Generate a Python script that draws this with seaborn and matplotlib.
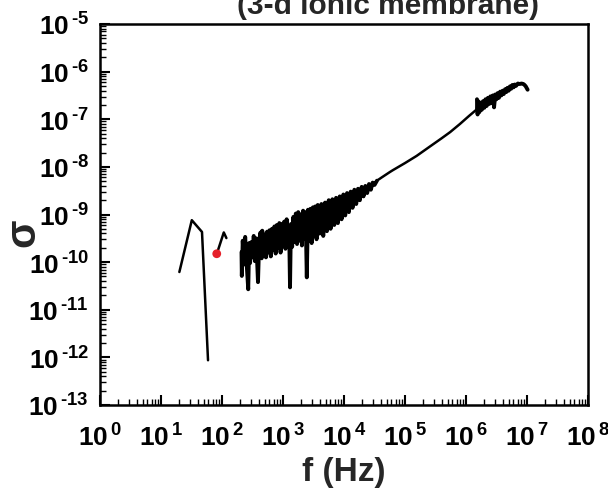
import numpy as np
import pandas as pd
import matplotlib
matplotlib.use("Agg")
import matplotlib.pyplot as plt
import seaborn as sns
from matplotlib.ticker import LogLocator, FuncFormatter, NullFormatter

# ---------------- data ----------------
# segment 1 (low-frequency)
f_seg1 = [20, 32, 47, 59]
sigma_seg1 = [6.2e-11, 7.6e-10, 4.3e-10, 8.7e-13]

# red point
f_red = [82]
sigma_red = [1.5e-10]

# segment 2 (short)
f_seg2 = [85, 107, 118]
sigma_seg2 = [1.7e-10, 4.2e-10, 3.2e-10]

# segment 3, noisy low-frequency part : log10 of frequency and conductivity
log_f_noisy_low = [
    2.32, 2.325, 2.34, 2.36, 2.38, 2.40, 2.43, 2.445, 2.46, 2.48, 2.50, 2.52, 2.54, 2.56,
    2.59, 2.61, 2.63, 2.65, 2.66, 2.68, 2.70, 2.72, 2.74, 2.76, 2.78, 2.80, 2.82, 2.84,
    2.86, 2.88, 2.90, 2.92, 2.94, 2.96, 2.98, 3.00, 3.02, 3.04, 3.06, 3.08, 3.10, 3.115,
    3.13, 3.15, 3.17, 3.19, 3.21, 3.23, 3.25, 3.27, 3.29, 3.31, 3.33, 3.35, 3.37, 3.39,
    3.41, 3.43, 3.45, 3.47, 3.49, 3.51, 3.53, 3.55, 3.57, 3.60, 3.63, 3.66, 3.69, 3.72,
    3.75, 3.78, 3.81, 3.84, 3.87, 3.90, 3.93, 3.96, 3.99, 4.02, 4.05, 4.08, 4.11, 4.14,
    4.17, 4.20, 4.23, 4.26, 4.29, 4.32, 4.35, 4.38, 4.41, 4.44, 4.47, 4.50, 4.54,
]
log_sigma_noisy_low = [
    -9.79, -10.29, -9.55, -10.05, -9.47, -9.95, -10.57, -9.60, -10.02, -9.58, -9.90, -9.45, -9.98, -9.50,
    -10.42, -9.55, -9.38, -9.92, -9.34, -9.85, -9.42, -9.90, -9.36, -9.80, -9.33, -9.88, -9.30, -9.75,
    -9.25, -9.82, -9.22, -9.70, -9.18, -9.80, -9.20, -9.65, -9.15, -9.72, -9.10, -9.60, -9.25, -10.53,
    -9.20, -9.68, -9.05, -9.58, -8.98, -9.62, -8.95, -9.55, -9.00, -9.65, -8.92, -9.50, -8.95, -10.32,
    -8.90, -9.55, -8.88, -9.60, -8.85, -9.45, -8.83, -9.52, -8.80, -9.40, -8.78, -9.45, -8.75, -9.35,
    -8.70, -9.30, -8.68, -9.22, -8.65, -9.18, -8.62, -9.10, -8.58, -9.02, -8.55, -8.95, -8.52, -8.86,
    -8.48, -8.78, -8.46, -8.70, -8.42, -8.62, -8.40, -8.55, -8.36, -8.48, -8.33, -8.38, -8.29,
]

# segment 3, smooth middle part
log_f_line = [4.54, 4.62, 4.75, 4.80, 5.00, 5.19, 5.40, 5.60, 5.74, 5.90, 6.05, 6.17, 6.18]
log_sigma_line = [-8.29, -8.22, -8.11, -8.07, -7.92, -7.77, -7.58, -7.40, -7.27, -7.10, -6.93, -6.80, -6.58]

# segment 3, noisy high-frequency part
log_f_noisy_high = [
    6.18, 6.19, 6.20, 6.22, 6.24, 6.26, 6.28, 6.30, 6.32, 6.34, 6.36, 6.38, 6.40, 6.42,
    6.44, 6.46, 6.48, 6.50, 6.52, 6.54, 6.56, 6.58, 6.60, 6.62, 6.64, 6.66, 6.68, 6.70,
    6.72, 6.74, 6.76, 6.78, 6.80, 6.82, 6.85, 6.88, 6.91, 6.94, 6.96, 6.98, 7.01,
]
log_sigma_noisy_high = [
    -6.58, -6.90, -6.62, -6.85, -6.65, -6.80, -6.62, -6.76, -6.58, -6.72, -6.55, -6.68, -6.52, -6.66,
    -6.50, -6.75, -6.48, -6.58, -6.45, -6.55, -6.42, -6.50, -6.40, -6.47, -6.37, -6.43, -6.34, -6.40,
    -6.31, -6.36, -6.28, -6.33, -6.27, -6.30, -6.25, -6.26, -6.25, -6.26, -6.28, -6.31, -6.38,
]

x_tick_exponents = list(range(0, 9))
y_tick_exponents = list(range(-13, -4))

title_text = "(3-d ionic membrane)"
x_label = "f (Hz)"
y_label = "σ"

# ---------------- style ----------------
sns.set_theme(style="ticks")
plt.rcParams["font.family"] = ["Liberation Sans", "DejaVu Sans"]
plt.rcParams["font.weight"] = "bold"
plt.rcParams["mathtext.fontset"] = "custom"
plt.rcParams["mathtext.rm"] = "Liberation Sans:bold"
plt.rcParams["mathtext.it"] = "Liberation Sans:bold"
plt.rcParams["mathtext.bf"] = "Liberation Sans:bold"
plt.rcParams["mathtext.default"] = "rm"

fig = plt.figure(figsize=(6.08, 4.89), dpi=100)
ax = fig.add_axes([100 / 608, 1 - 406 / 489, 488 / 608, 381 / 489])
ax.set_xscale("log")
ax.set_yscale("log")

seg1 = pd.DataFrame({"f": f_seg1, "sigma": sigma_seg1})
seg2 = pd.DataFrame({"f": f_seg2, "sigma": sigma_seg2})
noisy_low = pd.DataFrame({"f": 10 ** np.array(log_f_noisy_low),
                          "sigma": 10 ** np.array(log_sigma_noisy_low)})
line_mid = pd.DataFrame({"f": 10 ** np.array(log_f_line),
                         "sigma": 10 ** np.array(log_sigma_line)})
noisy_high = pd.DataFrame({"f": 10 ** np.array(log_f_noisy_high),
                           "sigma": 10 ** np.array(log_sigma_noisy_high)})
red = pd.DataFrame({"f": f_red, "sigma": sigma_red})

for seg in (seg1, seg2, line_mid):
    sns.lineplot(data=seg, x="f", y="sigma", ax=ax, color="black", lw=1.8,
                 sort=False, estimator=None)
for seg in (noisy_low, noisy_high):
    sns.lineplot(data=seg, x="f", y="sigma", ax=ax, color="black", lw=2.8,
                 sort=False, estimator=None)
sns.scatterplot(data=red, x="f", y="sigma", ax=ax, color="#e5202a", s=40,
                edgecolor="none", zorder=5)

ax.set_xlim(10 ** x_tick_exponents[0], 10 ** x_tick_exponents[-1])
ax.set_ylim(10 ** y_tick_exponents[0], 10 ** y_tick_exponents[-1])


def sci_label(v, pos):
    e = int(round(np.log10(v)))
    s = str(e).replace("-", "\u2010")
    return r"$10^{\,%s}$" % s


fmt = FuncFormatter(sci_label)
ax.xaxis.set_major_locator(LogLocator(base=10, numticks=20))
ax.yaxis.set_major_locator(LogLocator(base=10, numticks=20))
ax.xaxis.set_minor_locator(LogLocator(base=10, subs=np.arange(2, 10), numticks=20))
ax.yaxis.set_minor_locator(LogLocator(base=10, subs=np.arange(2, 10), numticks=20))
ax.xaxis.set_minor_formatter(NullFormatter())
ax.yaxis.set_minor_formatter(NullFormatter())
ax.xaxis.set_major_formatter(fmt)
ax.yaxis.set_major_formatter(fmt)

ax.tick_params(axis="both", which="major", direction="in", length=7, width=1.5,
               labelsize=19, color="black", labelcolor="black")
ax.tick_params(axis="x", which="major", pad=13)
ax.tick_params(axis="y", which="major", pad=8)
ax.tick_params(axis="both", which="minor", direction="in", length=4, width=1.0, color="black")
ax.tick_params(top=False, right=False, which="both")

for sp in ax.spines.values():
    sp.set_visible(True)
    sp.set_linewidth(1.8)
    sp.set_color("black")

ax.set_xlabel(x_label, fontsize=24, fontweight="bold", labelpad=4)
ax.set_ylabel(y_label, fontsize=30, fontweight="bold")
ax.yaxis.set_label_coords(-0.117, 0.455)

fig.text(388 / 608, 1 - 14 / 489, title_text, ha="center", va="baseline",
         fontsize=21.5, fontweight="bold")

fig.savefig("out.png", dpi=100, facecolor="white")
